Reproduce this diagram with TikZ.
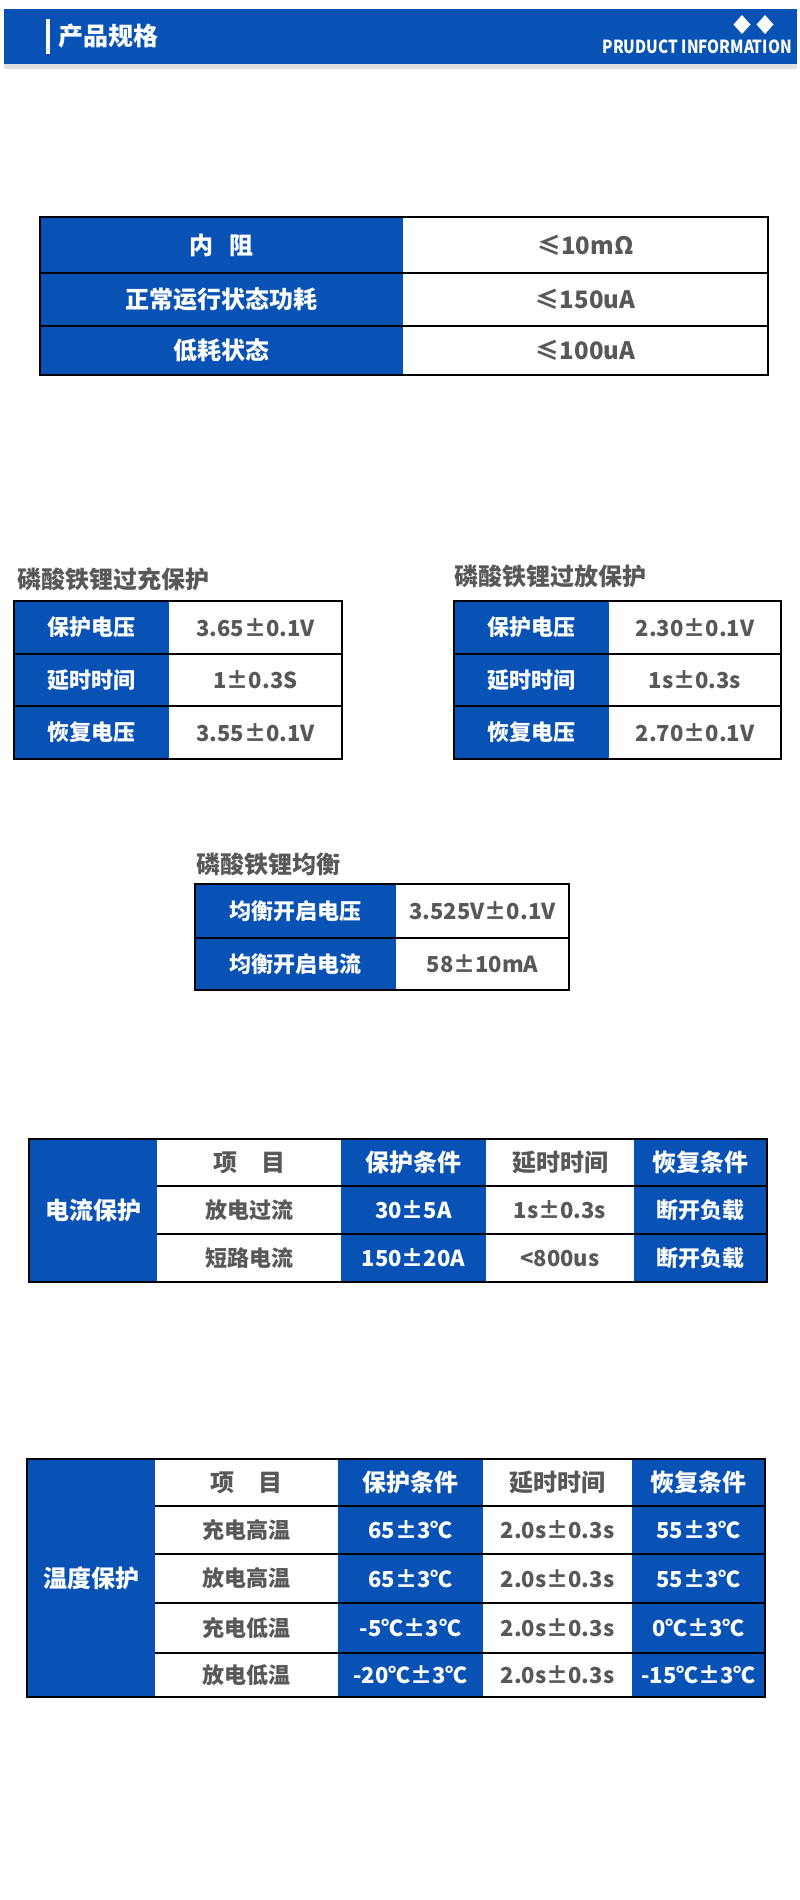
\documentclass[tikz,border=0pt]{standalone}
\usepackage{fontspec}
\setmainfont{Noto Sans CJK SC}
\usepackage{graphicx}
\usetikzlibrary{positioning, shadows}
\definecolor{pblue}{RGB}{8,82,181}
\definecolor{tgray}{RGB}{88,88,88}
\tikzstyle{bluecell} = [rectangle, fill=pblue, text=white, inner sep=0pt, outer sep=0pt, font=\bfseries\fontsize{22}{26}\selectfont]
\tikzstyle{whitecell} = [rectangle, fill=white, text=tgray, inner sep=0pt, outer sep=0pt, font=\bfseries\fontsize{22}{26}\selectfont]
\tikzstyle{bigtext} = [font=\bfseries\fontsize{24}{28}\selectfont]
\tikzstyle{tabtitle} = [anchor=west, inner sep=0pt, text=tgray, font=\bfseries\fontsize{24}{28}\selectfont]
\tikzstyle{tabframe} = [draw=black, line width=2pt]
\tikzstyle{tabrule} = [black, line width=2pt]

\begin{document}
\begin{tikzpicture}[x=1pt,y=-1pt]
	\useasboundingbox (0,0) rectangle (800,1900);
	\node (HEAD) [rectangle, fill=pblue, minimum width=793, minimum height=55, inner sep=0pt, drop shadow={shadow xshift=0pt, shadow yshift=-5pt, opacity=0.25}] at (400.5,36.5) {};
	\fill [white] (45.5,19) rectangle (50,54);
	\node (TITLE) [anchor=west, text=white, inner sep=0pt, font=\bfseries\fontsize{25}{30}\selectfont] at (58,36) {产品规格};
	\fill [white] (742,15) -- (750.5,24.5) -- (742,34) -- (733.5,24.5) -- cycle;
	\fill [white] (765,15) -- (773.5,24.5) -- (765,34) -- (756.5,24.5) -- cycle;
	\node (INFO) [anchor=east, text=white, inner sep=0pt, font=\bfseries\fontsize{18}{20}\selectfont] at (792,47) {\scalebox{0.85}[1]{PRUDUCT INFORMATION}};
	
	\node (T1A) [bluecell, bigtext, minimum width=363, minimum height=56] at (221.5,245) {内\hspace{0.7em}阻};
	\node (T1B) [whitecell, bigtext, minimum width=365, minimum height=56, right=0pt of T1A] {≤10mΩ};
	\node (T1C) [bluecell, bigtext, minimum width=363, minimum height=53] at (221.5,299.5) {正常运行状态功耗};
	\node (T1D) [whitecell, bigtext, minimum width=365, minimum height=53, right=0pt of T1C] {≤150uA};
	\node (T1E) [bluecell, bigtext, minimum width=363, minimum height=49] at (221.5,350.5) {低耗状态};
	\node (T1F) [whitecell, bigtext, minimum width=365, minimum height=49, right=0pt of T1E] {≤100uA};
	\draw [tabrule](T1A.south west) -- (T1B.south east);
	\draw [tabrule](T1C.south west) -- (T1D.south east);
	\draw [tabframe](T1A.north west) rectangle (T1F.south east);
	
	\node (OCT) [tabtitle] at (17,579) {磷酸铁锂过充保护};
	\node (OC1) [bluecell, minimum width=155, minimum height=53] at (91.5,627.5) {保护电压};
	\node (OC2) [whitecell, minimum width=173, minimum height=53, right=0pt of OC1] {3.65±0.1V};
	\node (OC3) [bluecell, minimum width=155, minimum height=52] at (91.5,680) {延时时间};
	\node (OC4) [whitecell, minimum width=173, minimum height=52, right=0pt of OC3] {1±0.3S};
	\node (OC5) [bluecell, minimum width=155, minimum height=53] at (91.5,732.5) {恢复电压};
	\node (OC6) [whitecell, minimum width=173, minimum height=53, right=0pt of OC5] {3.55±0.1V};
	\draw [tabrule](OC1.south west) -- (OC2.south east);
	\draw [tabrule](OC3.south west) -- (OC4.south east);
	\draw [tabframe](OC1.north west) rectangle (OC6.south east);
	
	\node (ODT) [tabtitle] at (454,576) {磷酸铁锂过放保护};
	\node (OD1) [bluecell, minimum width=155, minimum height=53] at (531.5,627.5) {保护电压};
	\node (OD2) [whitecell, minimum width=172, minimum height=53, right=0pt of OD1] {2.30±0.1V};
	\node (OD3) [bluecell, minimum width=155, minimum height=52] at (531.5,680) {延时时间};
	\node (OD4) [whitecell, minimum width=172, minimum height=52, right=0pt of OD3] {1s±0.3s};
	\node (OD5) [bluecell, minimum width=155, minimum height=53] at (531.5,732.5) {恢复电压};
	\node (OD6) [whitecell, minimum width=172, minimum height=53, right=0pt of OD5] {2.70±0.1V};
	\draw [tabrule](OD1.south west) -- (OD2.south east);
	\draw [tabrule](OD3.south west) -- (OD4.south east);
	\draw [tabframe](OD1.north west) rectangle (OD6.south east);
	
	\node (BALT) [tabtitle] at (196,864) {磷酸铁锂均衡};
	\node (BAL1) [bluecell, minimum width=201, minimum height=54] at (295.5,911) {均衡开启电压};
	\node (BAL2) [whitecell, minimum width=173, minimum height=54, right=0pt of BAL1] {3.525V±0.1V};
	\node (BAL3) [bluecell, minimum width=201, minimum height=52] at (295.5,964) {均衡开启电流};
	\node (BAL4) [whitecell, minimum width=173, minimum height=52, right=0pt of BAL3] {58±10mA};
	\draw [tabrule](BAL1.south west) -- (BAL2.south east);
	\draw [tabframe](BAL1.north west) rectangle (BAL4.south east);
	
	\node (CUR0) [bluecell, bigtext, minimum width=128, minimum height=143] at (93,1210.5) {电流保护};
	\node (CH1) [whitecell, bigtext, minimum width=184, minimum height=47] at (249,1162.5) {项\hspace{1em}目};
	\node (CH2) [bluecell, bigtext, minimum width=145, minimum height=47, right=0pt of CH1] {保护条件};
	\node (CH3) [whitecell, bigtext, minimum width=148, minimum height=47, right=0pt of CH2] {延时时间};
	\node (CH4) [bluecell, bigtext, minimum width=133, minimum height=47, right=0pt of CH3] {恢复条件};
	\node (CA1) [whitecell, minimum width=184, minimum height=48] at (249,1210) {放电过流};
	\node (CA2) [bluecell, minimum width=145, minimum height=48, right=0pt of CA1] {30±5A};
	\node (CA3) [whitecell, minimum width=148, minimum height=48, right=0pt of CA2] {1s±0.3s};
	\node (CA4) [bluecell, minimum width=133, minimum height=48, right=0pt of CA3] {断开负载};
	\node (CB1) [whitecell, minimum width=184, minimum height=48] at (249,1258) {短路电流};
	\node (CB2) [bluecell, minimum width=145, minimum height=48, right=0pt of CB1] {150±20A};
	\node (CB3) [whitecell, minimum width=148, minimum height=48, right=0pt of CB2] {<800us};
	\node (CB4) [bluecell, minimum width=133, minimum height=48, right=0pt of CB3] {断开负载};
	\draw [tabrule](CH1.south west) -- (CH4.south east);
	\draw [tabrule](CA1.south west) -- (CA4.south east);
	\draw [tabframe](CUR0.north west) rectangle (CB4.south east);
	
	\node (TMP0) [bluecell, bigtext, minimum width=128, minimum height=238] at (91,1578) {温度保护};
	\node (TH1) [whitecell, bigtext, minimum width=183, minimum height=47] at (246.5,1482.5) {项\hspace{1em}目};
	\node (TH2) [bluecell, bigtext, minimum width=145, minimum height=47, right=0pt of TH1] {保护条件};
	\node (TH3) [whitecell, bigtext, minimum width=149, minimum height=47, right=0pt of TH2] {延时时间};
	\node (TH4) [bluecell, bigtext, minimum width=133, minimum height=47, right=0pt of TH3] {恢复条件};
	\node (TA1) [whitecell, minimum width=183, minimum height=48] at (246.5,1530) {充电高温};
	\node (TA2) [bluecell, minimum width=145, minimum height=48, right=0pt of TA1] {65±3℃};
	\node (TA3) [whitecell, minimum width=149, minimum height=48, right=0pt of TA2] {2.0s±0.3s};
	\node (TA4) [bluecell, minimum width=133, minimum height=48, right=0pt of TA3] {55±3℃};
	\node (TB1) [whitecell, minimum width=183, minimum height=49] at (246.5,1578.5) {放电高温};
	\node (TB2) [bluecell, minimum width=145, minimum height=49, right=0pt of TB1] {65±3℃};
	\node (TB3) [whitecell, minimum width=149, minimum height=49, right=0pt of TB2] {2.0s±0.3s};
	\node (TB4) [bluecell, minimum width=133, minimum height=49, right=0pt of TB3] {55±3℃};
	\node (TC1) [whitecell, minimum width=183, minimum height=50] at (246.5,1628) {充电低温};
	\node (TC2) [bluecell, minimum width=145, minimum height=50, right=0pt of TC1] {-5℃±3℃};
	\node (TC3) [whitecell, minimum width=149, minimum height=50, right=0pt of TC2] {2.0s±0.3s};
	\node (TC4) [bluecell, minimum width=133, minimum height=50, right=0pt of TC3] {0℃±3℃};
	\node (TD1) [whitecell, minimum width=183, minimum height=44] at (246.5,1675) {放电低温};
	\node (TD2) [bluecell, minimum width=145, minimum height=44, right=0pt of TD1] {-20℃±3℃};
	\node (TD3) [whitecell, minimum width=149, minimum height=44, right=0pt of TD2] {2.0s±0.3s};
	\node (TD4) [bluecell, minimum width=133, minimum height=44, right=0pt of TD3] {-15℃±3℃};
	\draw [tabrule](TH1.south west) -- (TH4.south east);
	\draw [tabrule](TA1.south west) -- (TA4.south east);
	\draw [tabrule](TB1.south west) -- (TB4.south east);
	\draw [tabrule](TC1.south west) -- (TC4.south east);
	\draw [tabframe](TMP0.north west) rectangle (TD4.south east);
\end{tikzpicture}
\end{document}
